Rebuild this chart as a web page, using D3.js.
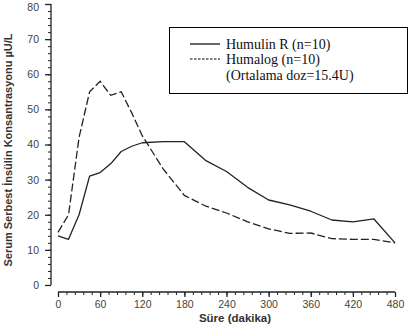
<!DOCTYPE html>
<html><head><meta charset="utf-8">
<script src="https://cdn.jsdelivr.net/npm/d3@7"></script>
<style>body{margin:0;background:#fff}svg{display:block}</style>
</head><body>
<script>
const times = [0,15,30,45,60,75,90,105,120,150,180,210,240,270,300,330,360,390,420,450,480];
const humulinR = [14,13,20,31,32,34.5,38,39.5,40.5,40.8,40.8,35.5,32.3,27.8,24.2,22.8,21,18.5,18,18.8,12];
const humalog = [15,20,42,55,58,54,55,49,42.5,33,25.5,22.5,20.5,18,16,14.7,14.8,13.2,13,13,12];
const xTicks = [0,60,120,180,240,300,360,420,480];
const yTicks = [0,10,20,30,40,50,60,70,80];
const legendLabels = ["Humulin R (n=10)","Humalog (n=10)","(Ortalama doz=15.4U)"];
const xTitle = "Süre (dakika)";
const yTitle = "Serum Serbest İnsülin Konsantrasyonu µU/L";

const W=410,H=336;
const svg=d3.select("body").append("svg").attr("width",W).attr("height",H);
const x=d3.scaleLinear().domain([0,480]).range([58,395]);
const y=d3.scaleLinear().domain([0,80]).range([285,4]);
const ink="#222";

// Y axis
const yAx=svg.append("g").attr("transform","translate(51,0)");
yAx.call(d3.axisLeft(y).tickValues(d3.range(0,81,2)).tickSize(3).tickFormat(""));
yAx.call(g=>g.select(".domain").remove());
yAx.selectAll("line").attr("stroke",ink);
const yMaj=svg.append("g").attr("transform","translate(51,0)")
  .call(d3.axisLeft(y).tickValues(yTicks).tickSize(6).tickPadding(6).tickFormat(d3.format("d")));
yMaj.select(".domain").attr("d","M0,"+y(80)+"V"+y(0)).attr("stroke",ink).attr("stroke-width",1.3);
yMaj.selectAll("line").attr("stroke",ink).attr("stroke-width",1.3);
yMaj.selectAll("text").attr("font-family","Liberation Sans, Arial, sans-serif").attr("font-size",10.5).attr("fill","#444")
  .filter(d=>d===80).attr("dy","0.6em");

// X axis
const xy=292;
const xAx=svg.append("g").attr("transform","translate(0,"+xy+")");
xAx.call(d3.axisBottom(x).tickValues(d3.range(0,481,12)).tickSize(3).tickFormat(""));
xAx.call(g=>g.select(".domain").remove());
xAx.selectAll("line").attr("stroke",ink);
const xMaj=svg.append("g").attr("transform","translate(0,"+xy+")")
  .call(d3.axisBottom(x).tickValues(xTicks).tickSize(5).tickPadding(4).tickFormat(d3.format("d")));
xMaj.select(".domain").attr("d","M"+x(0)+",0H"+x(480)).attr("stroke",ink).attr("stroke-width",1.3);
xMaj.selectAll("line").attr("stroke",ink).attr("stroke-width",1.3);
xMaj.selectAll("text").attr("font-family","Liberation Sans, Arial, sans-serif").attr("font-size",10.5).attr("fill","#444");

// Titles
svg.append("text").attr("x",235).attr("y",322).attr("text-anchor","middle")
  .attr("font-family","Liberation Sans, Arial, sans-serif").attr("font-size",11.5).attr("font-weight","bold").attr("fill","#333").text(xTitle);
svg.append("text").attr("transform","translate(12,150) rotate(-90)").attr("text-anchor","middle")
  .attr("font-family","Liberation Sans, Arial, sans-serif").attr("font-size",11).attr("font-weight","bold").attr("fill","#333").text(yTitle);

// Lines
const line=d3.line().x(d=>x(d[0])).y(d=>y(d[1]));
svg.append("path").datum(times.map((t,i)=>[t,humulinR[i]])).attr("d",line)
  .attr("fill","none").attr("stroke",ink).attr("stroke-width",1.3).attr("stroke-linejoin","round");
svg.append("path").datum(times.map((t,i)=>[t,humalog[i]])).attr("d",line)
  .attr("fill","none").attr("stroke",ink).attr("stroke-width",1.3).attr("stroke-dasharray","8,3");

// Legend
svg.append("rect").attr("x",169.5).attr("y",27.5).attr("width",238).attr("height",66)
  .attr("fill","#fff").attr("stroke","#000").attr("stroke-width",1);
svg.append("line").attr("x1",190).attr("x2",220).attr("y1",44).attr("y2",44).attr("stroke","#000").attr("stroke-width",1.2);
svg.append("line").attr("x1",190).attr("x2",220).attr("y1",59).attr("y2",59).attr("stroke","#000").attr("stroke-width",1).attr("stroke-dasharray","2.5,1.5");
legendLabels.forEach((s,i)=>{
  svg.append("text").attr("x",226).attr("y",48.5+i*15.5)
    .attr("font-family","Liberation Serif, Times New Roman, serif").attr("font-size",14).attr("fill","#111").text(s);
});
</script>
</body></html>
